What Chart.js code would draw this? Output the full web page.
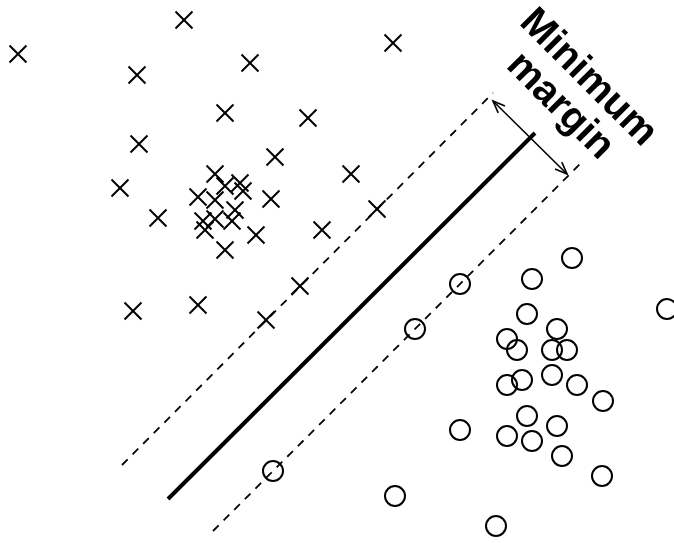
<!DOCTYPE html>
<html>
<head>
<meta charset="utf-8">
<script src="https://cdn.jsdelivr.net/npm/chart.js@4/dist/chart.umd.min.js"></script>
<style>
  html, body { margin: 0; padding: 0; background: #fff; }
  #wrap { width: 674px; height: 543px; }
</style>
</head>
<body>
<div id="wrap"><canvas id="svm" width="674" height="543"></canvas></div>
<script>
// class 1 (crosses)
var crossX = [18, 184, 137, 250, 393, 225, 308, 139, 275, 120, 215, 225, 240, 243, 198, 215, 271, 158, 235, 203, 215, 232, 205, 256, 225, 351, 377, 322, 300, 133, 198, 266];
var crossY = [54, 20, 75, 63, 43, 113, 118, 144, 157, 188, 174, 186, 183, 191, 197, 200, 199, 218, 210, 221, 219, 221, 230, 235, 250, 174, 209, 230, 286, 311, 305, 320];

// class 2 (circles)
var circleX = [572, 532, 460, 527, 667, 415, 557, 507, 517, 552, 567, 507, 522, 552, 577, 603, 527, 460, 557, 507, 532, 562, 602, 273, 395, 496];
var circleY = [258, 279, 284, 314, 309, 329, 329, 339, 350, 350, 350, 385, 380, 375, 385, 401, 416, 430, 426, 436, 441, 456, 476, 471, 496, 526];

// separating line and margins (end points)
var hyperX = [168, 535];
var hyperY = [499, 133];
var upperX = [122, 493];
var upperY = [465, 93];
var lowerX = [213, 583];
var lowerY = [531, 161];

// margin arrow
var arrowX = [493, 567];
var arrowY = [101, 174];

var labelLines = ["Minimum", "margin"];

function pts(xs, ys) {
  return xs.map(function(x, i) { return { x: x, y: ys[i] }; });
}

var annotate = {
  id: 'annotate',
  afterDatasetsDraw: function(chart) {
    var ctx = chart.ctx;
    var sx = chart.scales.x, sy = chart.scales.y;
    var x1 = sx.getPixelForValue(arrowX[0]), y1 = sy.getPixelForValue(arrowY[0]);
    var x2 = sx.getPixelForValue(arrowX[1]), y2 = sy.getPixelForValue(arrowY[1]);
    ctx.save();
    ctx.strokeStyle = '#000';
    ctx.lineWidth = 1.6;
    ctx.beginPath();
    ctx.moveTo(x1, y1);
    ctx.lineTo(x2, y2);
    ctx.stroke();
    // open heads
    var ang = Math.atan2(y2 - y1, x2 - x1);
    var len = 13, spread = 0.38;
    function head(x, y, a) {
      ctx.beginPath();
      ctx.moveTo(x - len * Math.cos(a - spread), y - len * Math.sin(a - spread));
      ctx.lineTo(x, y);
      ctx.lineTo(x - len * Math.cos(a + spread), y - len * Math.sin(a + spread));
      ctx.stroke();
    }
    head(x2, y2, ang);
    head(x1, y1, ang + Math.PI);

    // rotated label
    ctx.fillStyle = '#000';
    ctx.font = 'bold 40px "Liberation Sans", Arial, sans-serif';
    ctx.textAlign = 'center';
    ctx.textBaseline = 'middle';
    ctx.translate(sx.getPixelForValue(574), sy.getPixelForValue(92));
    ctx.rotate(Math.PI / 4);
    ctx.fillText(labelLines[0], 0, -20);
    ctx.fillText(labelLines[1], 0, 20);
    ctx.restore();
  }
};

new Chart(document.getElementById('svm'), {
  type: 'scatter',
  data: {
    datasets: [
      {
        label: 'crosses',
        data: pts(crossX, crossY),
        pointStyle: 'crossRot',
        pointRadius: 12,
        borderColor: '#000',
        borderWidth: 2
      },
      {
        label: 'circles',
        data: pts(circleX, circleY),
        pointStyle: 'circle',
        pointRadius: 10,
        backgroundColor: 'rgba(255,255,255,0)',
        borderColor: '#000',
        borderWidth: 2
      },
      {
        label: 'hyperplane',
        type: 'line',
        data: pts(hyperX, hyperY),
        borderColor: '#000',
        borderWidth: 4,
        pointRadius: 0
      },
      {
        label: 'upper',
        type: 'line',
        data: pts(upperX, upperY),
        borderColor: '#000',
        borderWidth: 1.8,
        borderDash: [8, 7],
        pointRadius: 0
      },
      {
        label: 'lower',
        type: 'line',
        data: pts(lowerX, lowerY),
        borderColor: '#000',
        borderWidth: 1.8,
        borderDash: [8, 7],
        pointRadius: 0
      }
    ]
  },
  options: {
    responsive: false,
    animation: false,
    layout: { padding: 0, autoPadding: false },
    plugins: { legend: { display: false }, tooltip: { enabled: false } },
    scales: {
      x: { type: 'linear', min: 0, max: 674, display: false },
      y: { type: 'linear', min: 0, max: 543, reverse: true, display: false }
    }
  },
  plugins: [annotate]
});
</script>
</body>
</html>
